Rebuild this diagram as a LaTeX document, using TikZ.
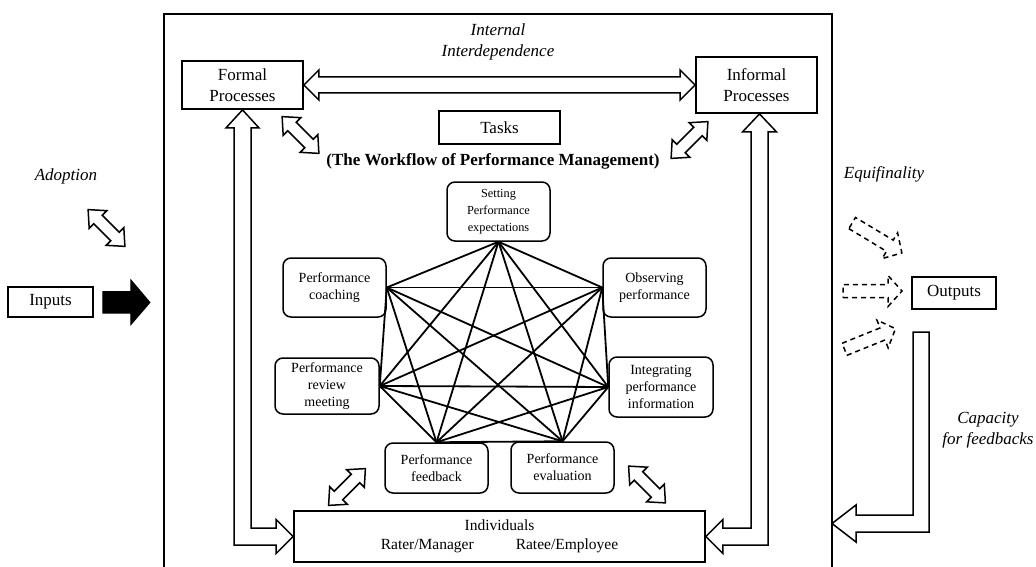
\documentclass[tikz,border=0pt]{standalone}
\usepackage{fontspec}
\setmainfont{Liberation Serif}
\usetikzlibrary{calc}
% hollow double arrow: cx, cy, angle, length, shaft half width, head half width, head length
\newcommand\hdbl[7]{%
  \begin{scope}[shift={(#1,#2)}, rotate=#3]
    \draw[hollow] ({-#4/2},0) -- ({-#4/2+#7},#6) -- ({-#4/2+#7},#5) -- ({#4/2-#7},#5)
      -- ({#4/2-#7},#6) -- ({#4/2},0) -- ({#4/2-#7},-#6) -- ({#4/2-#7},-#5)
      -- ({-#4/2+#7},-#5) -- ({-#4/2+#7},-#6) -- cycle;
  \end{scope}}
% hollow single arrow (dashed): cx, cy, angle, length, shaft half, head half, head length
\newcommand\hsgl[7]{%
  \begin{scope}[shift={(#1,#2)}, rotate=#3]
    \draw[dashedarrow] ({-#4/2},#5) -- ({#4/2-#7},#5) -- ({#4/2-#7},#6) -- ({#4/2},0)
      -- ({#4/2-#7},-#6) -- ({#4/2-#7},-#5) -- ({-#4/2},-#5) -- cycle;
  \end{scope}}
\begin{document}
\begin{tikzpicture}[x=1pt,y=-1pt,
  bigtxt/.style={font=\fontsize{17}{20.5}\selectfont},
  box/.style={draw, line width=1.8pt, align=center, inner sep=0pt, bigtxt},
  rbox/.style={draw, line width=1.5pt, rounded corners=8pt, align=center, inner sep=0pt,
    minimum width=103pt, font=\fontsize{14}{17}\selectfont},
  lbl/.style={align=center, inner sep=0pt, font=\fontsize{17}{20.5}\selectfont\itshape},
  hollow/.style={draw, line width=1.5pt, fill=white, line join=miter},
  dashedarrow/.style={draw, line width=1.5pt, dash pattern=on 5pt off 4pt},
  solidarrow/.style={fill=black, draw=black, line width=1pt},
  link/.style={line width=1.8pt},
  frame/.style={line width=1.6pt}]
\useasboundingbox (0,0) rectangle (1036,567);

% outer frame (open at the bottom)
\coordinate (frTL) at (164,14);
\coordinate (frTR) at (832,14);
\draw[frame] (164,580) -- (frTL) -- (frTR) -- (832,580);

% main boxes
\node[box, minimum width=121pt, minimum height=48pt] (fp) at (242.5,85) {Formal\\Processes};
\node[box, minimum width=121pt, minimum height=56pt] (ip) at (756.5,85) {Informal\\Processes};
\node[box, minimum width=121pt, minimum height=33pt] (tasks) at (499.5,127.5) {Tasks};
\node[box, minimum width=411pt, minimum height=51pt, font=\fontsize{15.5}{19.5}\selectfont] (ind) at (499.5,536.5)
  {Individuals\\Rater/Manager\hspace{42pt}Ratee/Employee};
\node[box, minimum width=85pt, minimum height=30pt] (inp) at (50.5,302) {Inputs};
\node[box, minimum width=84pt, minimum height=32pt] (outp) at (954,293) {Outputs};

% labels
\node[lbl] (intl) at (498,42) {Internal\\Interdependence};
\node[inner sep=0pt, font=\fontsize{17}{20.5}\selectfont\bfseries] (wf) at (493,161)
  {(The Workflow of Performance Management)};
\node[lbl] (adopt) at (66,176) {Adoption};
\node[lbl] (equi) at (884,174) {Equifinality};
\node[lbl] (cap) at (988,430) {Capacity\\for feedbacks};

% workflow boxes
\node[rbox, minimum height=59pt, font=\fontsize{12.3}{17}\selectfont] (set) at (498.5,211.5) {Setting\\Performance\\expectations};
\node[rbox, minimum height=59pt] (coach) at (334.5,287.5) {Performance\\coaching};
\node[rbox, minimum height=59pt] (obs) at (654.5,287.5) {Observing\\performance};
\node[rbox, minimum width=104pt, minimum height=56pt] (rev) at (327,386) {Performance\\review\\meeting};
\node[rbox, minimum width=104pt, minimum height=60pt] (integ) at (661,387) {Integrating\\performance\\information};
\node[rbox, minimum height=50pt] (fb) at (436.5,468) {Performance\\feedback};
\node[rbox, minimum height=51pt] (ev) at (562.5,467.5) {Performance\\evaluation};

% complete graph of workflow links
\coordinate (s) at (set.south);
\coordinate (c) at (coach.east);
\coordinate (o) at (obs.west);
\coordinate (r) at (rev.east);
\coordinate (i) at (integ.west);
\coordinate (f) at (fb.north);
\coordinate (e) at (ev.north);
\foreach \a/\b in {s/c,s/o,s/r,s/i,s/f,s/e,c/o,c/r,c/i,c/f,c/e,o/r,o/i,o/f,o/e,r/i,r/f,r/e,i/f,i/e,f/e}
  \draw[link] (\a) -- (\b);

% Formal <-> Informal hollow double arrow
\draw[hollow] (fp.east) -- ++(15,-15) -- ++(0,7) -- ($(ip.west)+(-15,-8)$) -- ++(0,-7)
  -- (ip.west) -- ++(-15,15) -- ++(0,-7) -- ($(fp.east)+(15,8)$) -- ++(0,7) -- cycle;

% Formal <-> Individuals (L-shaped hollow double arrow)
\draw[hollow] (fp.south) -- ++(16.5,18) -- ++(-8,0)
  -- ($(fp.south |- ind.west)+(8.5,-8.5)$) -- ($(ind.west)+(-17,-8.5)$) -- ++(0,-8.5)
  -- (ind.west) -- ++(-17,17) -- ++(0,-8.5)
  -- ($(fp.south |- ind.west)+(-8.5,8.5)$) -- ($(fp.south)+(-8.5,18)$) -- ++(-8,0) -- cycle;

% Informal <-> Individuals
\coordinate (ipb) at ($(ip.south)+(3,0)$);
\draw[hollow] (ipb) -- ++(-17,18) -- ++(8.5,0)
  -- ($(ipb |- ind.east)+(-8.5,-8.5)$) -- ($(ind.east)+(17,-8.5)$) -- ++(0,-8.5)
  -- (ind.east) -- ++(17,17) -- ++(0,-8.5)
  -- ($(ipb |- ind.east)+(8.5,8.5)$) -- ($(ipb)+(8.5,18)$) -- ++(8.5,0) -- cycle;

% feedback arrow from Outputs back to the frame
\coordinate (fbt) at (921,332);
\coordinate (fbtip) at (832,523.5);
\draw[hollow] ($(fbt)+(-8,0)$) -- ($(fbt)+(8,0)$) -- ($(fbt |- fbtip)+(8,8.5)$)
  -- ($(fbtip)+(24,8.5)$) -- ++(0,10) -- (fbtip) -- ($(fbtip)+(24,-18.5)$) -- ++(0,10)
  -- ($(fbt |- fbtip)+(-8,-8.5)$) -- cycle;

% Inputs black arrow
\draw[solidarrow] ($(inp.east)+(9,-10.5)$) -- ($(inp.east)+(37,-10.5)$) -- ($(inp.east)+(37,-22)$)
  -- ($(inp.east)+(56,0.5)$) -- ($(inp.east)+(37,22.5)$) -- ($(inp.east)+(37,11)$)
  -- ($(inp.east)+(9,11)$) -- cycle;

% small diagonal hollow double arrows
\hdbl{300.5}{135}{-45}{52}{6}{12.5}{14}
\hdbl{689.5}{140}{45}{52}{6}{12.5}{14}
\hdbl{106.5}{228}{-45}{52}{6}{12.5}{14}
\hdbl{347}{487}{45}{52}{6}{12.5}{14}
\hdbl{647}{484.5}{-45}{52}{6}{12.5}{14}

% dashed arrows towards Outputs
\hsgl{877}{238}{-31}{58}{6.5}{15}{14}
\hsgl{872.5}{291}{0}{59}{6.5}{15.5}{14}
\hsgl{870}{339}{22}{55}{6.5}{15}{14}
\end{tikzpicture}
\end{document}
